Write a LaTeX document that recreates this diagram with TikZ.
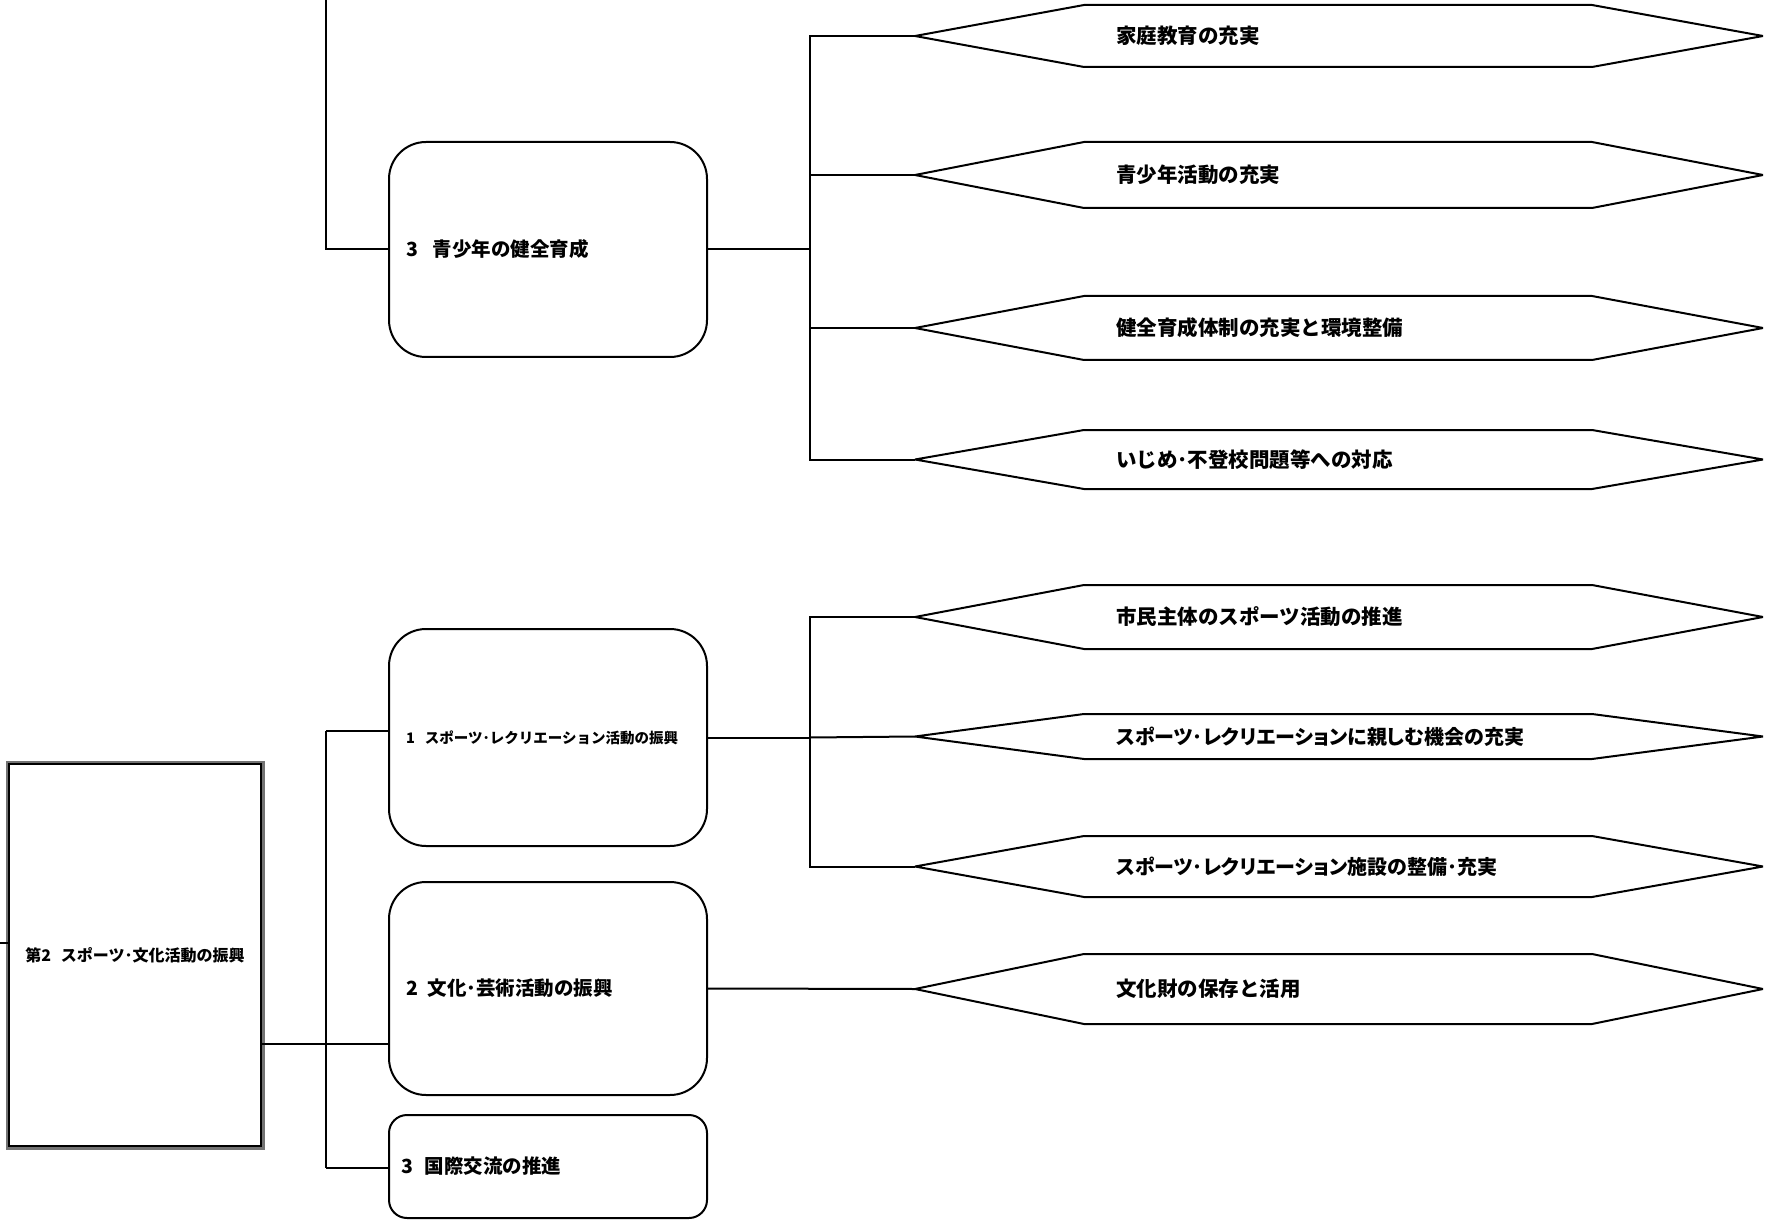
\documentclass[tikz,border=0pt]{standalone}
\usepackage{fontspec}
\newfontfamily\jp{Noto Sans CJK JP}
\newfontfamily\jpp{Noto Sans CJK JP}[RawFeature=+palt]
\tikzset{
  ln/.style={line width=2pt, black},
  rbox/.style={draw, line width=2pt, minimum width=318pt, text width=284pt, align=left,
    inner xsep=17pt, inner ysep=0pt},
  htext/.style={inner sep=0pt, anchor=west, font=\jp\bfseries\fontsize{20.5}{24}\selectfont},
}
\newcommand\hexa[4]{%
  \path (915,{(#2+#3)/2}) coordinate (#1);
  \draw[ln, line join=bevel] (#1) -- (1084,#2) -- (1592,#2) -- (1763,{(#2+#3)/2}) -- (1592,#3) -- (1084,#3) -- cycle;
  \node[htext] (#1t) at (1116,{(#2+#3)/2}) {#4};
}
\begin{document}
\begin{tikzpicture}[x=1pt,y=-1pt]
\useasboundingbox (0,0) rectangle (1780,1222);

% ---------- upper group ----------
\node[rbox, minimum height=215pt, rounded corners=37pt,
  font=\jp\bfseries\fontsize{19.5}{23}\selectfont] (b13) at (548,249.5)
  {3\hspace{0.75em}青少年の健全育成};
\coordinate (topend) at (326,0);
\draw[ln] (topend) |- (b13.west);

\hexa{h1}{5}{67}{家庭教育の充実}
\hexa{h2}{142}{208}{青少年活動の充実}
\hexa{h3}{296}{360}{健全育成体制の充実と環境整備}
\hexa{h4}{430}{489}{いじめ･不登校問題等への対応}

\coordinate (ja) at (810,249.5);
\draw[ln] (b13.east) -- (ja);
\draw[ln] (ja) |- (h1);
\draw[ln] (ja) |- (h2);
\draw[ln] (ja) |- (h3);
\draw[ln] (ja) |- (h4);

% ---------- lower group ----------
\draw[line width=3pt, black!55] (7,762) rectangle (263,1148);
\node[draw, line width=1.2pt, minimum width=252pt, minimum height=382pt, inner sep=0pt,
  font=\jp\bfseries\fontsize{16}{19}\selectfont] (m) at (135,955)
  {第2\hspace{0.6em}スポーツ･文化活動の振興};
\coordinate (lstub) at (0,943);
\draw[ln] (lstub) -- (lstub -| m.west);

\node[rbox, minimum height=217pt, rounded corners=37pt,
  font=\jp\bfseries\fontsize{14.5}{17}\selectfont] (b21) at (548,737.5)
  {1\hspace{0.7em}スポーツ･レクリエーション活動の振興};
\node[rbox, minimum height=213pt, rounded corners=37pt,
  font=\jp\bfseries\fontsize{19.5}{23}\selectfont] (b22) at (548,988.5)
  {2\hspace{0.5em}文化･芸術活動の振興};
\node[rbox, minimum height=103pt, rounded corners=18pt, inner xsep=12pt, text width=294pt,
  font=\jp\bfseries\fontsize{19.5}{23}\selectfont] (b23) at (548,1166.5)
  {3\hspace{0.6em}国際交流の推進};

\coordinate (ka) at (326,731);
\coordinate (kb) at (326,1168);
\draw[ln] (ka) -- (kb);
\draw[ln] (ka) -- (ka -| b21.west);
\draw[ln] (kb) -- (kb -| b23.west);
\draw[ln] (m.east |- 0,1044) -- (b22.west |- 0,1044);

\hexa{h5}{585}{649}{市民主体のスポーツ活動の推進}
\hexa{h6}{714}{759}{\jpp\fontsize{20}{24}\selectfont スポーツ･レクリエーションに親しむ機会の充実}
\hexa{h7}{836}{897}{\jpp\fontsize{20}{24}\selectfont スポーツ･レクリエーション施設の整備･充実}
\hexa{h8}{954}{1024}{文化財の保存と活用}

\coordinate (jb) at (810,737.5);
\draw[ln] (b21.east) -- (jb);
\draw[ln] (jb) |- (h5);
\draw[ln] (jb) -- (h6);
\draw[ln] (jb) |- (h7);
\draw[ln] (b22.east) -- (h8);
\end{tikzpicture}
\end{document}
